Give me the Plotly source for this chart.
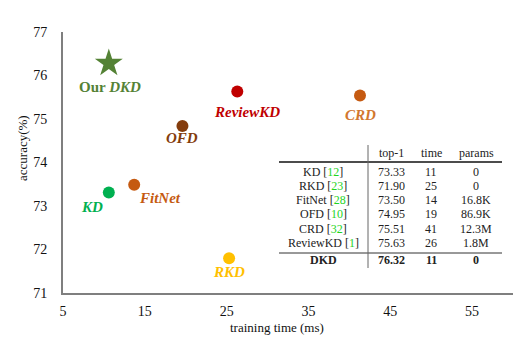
import plotly.graph_objects as go

# ---- data ----
methods = ["KD", "RKD", "FitNet", "OFD", "CRD", "ReviewKD", "DKD"]
train_time = [10.6, 25.3, 13.7, 19.6, 41.3, 26.3, 10.6]
accuracy = [73.31, 71.80, 73.49, 74.84, 75.54, 75.63, 76.28]
colors = ["#00B050", "#FFC000", "#C55A11", "#843C0C", "#C55A11", "#C00000", "#548235"]
label_colors = ["#00B050", "#FFC000", "#C55A11", "#843C0C", "#D2772E", "#C00000", "#548235"]
labels = ["<b><i>KD</i></b>", "<b><i>RKD</i></b>", "<b><i>FitNet</i></b>", "<b><i>OFD</i></b>",
          "<b><i>CRD</i></b>", "<b><i>ReviewKD</i></b>", "<b>Our <i>DKD</i></b>"]
# label offsets in pixels (layout only)
label_dx = [-17, 0, 26, 0, 0, 10, 1]
label_dy = [-14, -14, -13, -12, -19, -20, -24]

x_ticks = [5, 15, 25, 35, 45, 55]
y_ticks = [71, 72, 73, 74, 75, 76, 77]

tbl_header = ["top-1", "time", "params"]
tbl_names = ["KD", "RKD", "FitNet", "OFD", "CRD", "ReviewKD"]
tbl_refs = ["12", "23", "28", "10", "32", "1"]
tbl_top1 = ["73.33", "71.90", "73.50", "74.95", "75.51", "75.63"]
tbl_time = ["11", "25", "14", "19", "41", "26"]
tbl_params = ["0", "0", "16.8K", "86.9K", "12.3M", "1.8M"]
tbl_last = ["DKD", "76.32", "11", "0"]

SERIF = "Liberation Serif, Times New Roman, serif"

fig = go.Figure()
for i, m in enumerate(methods):
    fig.add_trace(go.Scatter(
        x=[train_time[i]], y=[accuracy[i]], mode="markers", name=m,
        marker=dict(color=colors[i], size=21 if m == "DKD" else 12,
                    symbol="star" if m == "DKD" else "circle",
                    line=dict(width=0)),
        showlegend=False, hoverinfo="skip"))
    fig.add_annotation(x=train_time[i], y=accuracy[i], text=labels[i],
                       showarrow=False, xshift=label_dx[i], yshift=label_dy[i],
                       xanchor="center", yanchor="middle",
                       font=dict(family=SERIF, size=15, color=label_colors[i]))

# page has an 8px body margin; figure is sized to fit the 532x355 window
OFF = 8
W, H = 532 - OFF, 355 - OFF
L, R, T, B = 63 - OFF, 19, 32 - OFF, 62
pw, ph = W - L - R, H - T - B
X0, Y1 = 63, 293  # plot-area left / bottom in window pixels


def px(x):
    return (x - X0) / pw


def py(y):
    return (Y1 - y) / ph


def note(x, y, text, font, angle=0):
    fig.add_annotation(xref="paper", yref="paper", x=px(x), y=py(y), text=text,
                       textangle=angle, showarrow=False, xanchor="center",
                       yanchor="middle", font=font)


# axis titles
note(22, 148, "accuracy(%)", dict(family=SERIF, size=13, color="#111"), angle=-90)
note(277, 327, "training time (ms)", dict(family=SERIF, size=13, color="#111"))

# table
tfont = dict(family=SERIF, size=12, color="#222")
col_x = [323, 391, 431, 476]
row_y = [172, 186, 200, 214, 229, 243]
for j, h in enumerate(tbl_header):
    note(col_x[j + 1], 153, h, tfont)
for r in range(len(tbl_names)):
    name = f"{tbl_names[r]} [<span style='color:#1ED41E'>{tbl_refs[r]}</span>]"
    vals = [name, tbl_top1[r], tbl_time[r], tbl_params[r]]
    for c, v in enumerate(vals):
        note(col_x[c], row_y[r], v, tfont)
for c, v in enumerate(tbl_last):
    note(col_x[c], 260, f"<b>{v}</b>", tfont)

fig.add_shape(type="line", xref="paper", yref="paper", x0=px(279), x1=px(502),
              y0=py(162), y1=py(162), line=dict(color="#111", width=1.5))
fig.add_shape(type="line", xref="paper", yref="paper", x0=px(279), x1=px(502),
              y0=py(253), y1=py(253), line=dict(color="#333", width=1))
fig.add_shape(type="line", xref="paper", yref="paper", x0=px(368), x1=px(368),
              y0=py(145), y1=py(268), line=dict(color="#666", width=1))

fig.update_layout(
    width=W, height=H, margin=dict(l=L, r=R, t=T, b=B),
    plot_bgcolor="white", paper_bgcolor="white",
    xaxis=dict(range=[5, 60], tickvals=x_ticks, showgrid=False, zeroline=False,
               showline=True, linecolor="#7f7f7f", linewidth=2,
               ticks="outside", ticklen=4, tickcolor="rgba(0,0,0,0)",
               tickfont=dict(family=SERIF, size=14, color="#111")),
    yaxis=dict(range=[71, 77], tickvals=y_ticks, showgrid=False, zeroline=False,
               showline=True, linecolor="#7f7f7f", linewidth=2,
               ticks="outside", ticklen=11, tickcolor="rgba(0,0,0,0)",
               tickfont=dict(family=SERIF, size=14, color="#111")),
)

fig.write_html("out.html")
